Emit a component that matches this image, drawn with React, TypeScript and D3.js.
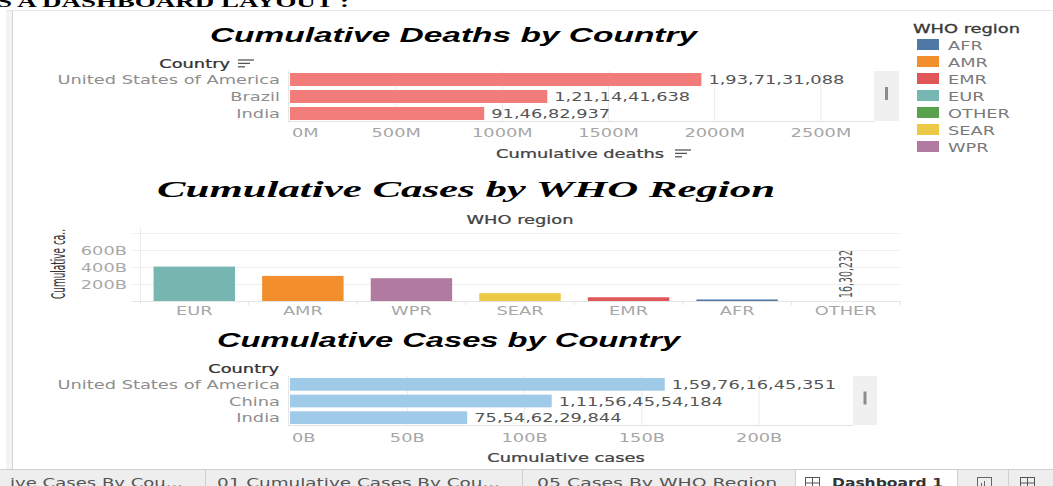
import React, { useEffect, useRef } from 'react';
import * as d3 from 'd3';

const W = 1053;
const H = 486;
const SX = 1.55; // the screenshot is stretched sideways, so text is too
const SANS = 'DejaVu Sans';

// Cumulative deaths by country
const deathCountries = ['United States of America', 'Brazil', 'India'];
const deathValues = [1937131088, 1211441638, 914682937];
const deathTicks = [0, 500e6, 1000e6, 1500e6, 2000e6, 2500e6];

// Cumulative cases by WHO region
const regions = ['EUR', 'AMR', 'WPR', 'SEAR', 'EMR', 'AFR', 'OTHER'];
const regionCases = [405e9, 295e9, 268e9, 92e9, 44e9, 18e9, 1630232];
const regionTicks = [200e9, 400e9, 600e9];

// legend
const legendRegions = ['AFR', 'AMR', 'EMR', 'EUR', 'OTHER', 'SEAR', 'WPR'];
const legendColors = ['#4e79a7', '#f28e2b', '#e15759', '#76b7b2', '#59a14f', '#edc948', '#b07aa1'];

// Cumulative cases by country
const caseCountries = ['United States of America', 'China', 'India'];
const caseValues = [159761645351, 111564554184, 75546229844];
const caseTicks = [0, 50e9, 100e9, 150e9, 200e9];

const tabs = ['ive  Cases  By  Cou...', '01  Cumulative  Cases  By  Cou...', '05  Cases  By  WHO  Region'];

// 1937131088 -> 1,93,71,31,088
function indian(n) {
  const s = String(Math.round(n));
  const last3 = s.slice(-3);
  let rest = s.slice(0, -3);
  const parts = [];
  while (rest.length > 2) {
    parts.unshift(rest.slice(-2));
    rest = rest.slice(0, -2);
  }
  if (rest) parts.unshift(rest);
  return parts.length ? parts.join(',') + ',' + last3 : last3;
}

function label(g, str, x, y, o: any = {}) {
  return g.append('text')
    .attr('transform', `translate(${x},${y}) scale(${o.sx ?? SX},1)`)
    .attr('text-anchor', o.anchor ?? 'start')
    .style('font-family', o.family ?? SANS)
    .style('font-size', `${o.size ?? 11.5}px`)
    .style('font-weight', o.weight ?? 'normal')
    .style('font-style', o.style ?? 'normal')
    .attr('fill', o.fill ?? '#555')
    .text(str);
}

// stretch a text so it covers the given width
function fitWidth(t, x, y, width) {
  const len = t.node().getComputedTextLength();
  t.attr('transform', `translate(${x},${y}) scale(${width / len},1)`);
  return t;
}

function sortIcon(g, x, y) {
  [16, 12, 7].forEach((w, i) => {
    g.append('line')
      .attr('x1', x).attr('x2', x + w)
      .attr('y1', y + i * 3.4).attr('y2', y + i * 3.4)
      .attr('stroke', '#555').attr('stroke-width', 1.3);
  });
}

function drawCountryChart(svg, c) {
  const g = svg.append('g');
  const x = d3.scaleLinear().domain([0, c.max]).range([c.x0, c.x1]);
  const y = d3.scaleBand().domain(c.countries).range([c.top, c.bottom])
    .paddingInner(4 / 17).paddingOuter(2 / 17);
  const bw = y.bandwidth();
  const base = c.bottom - 1;

  // title
  fitWidth(label(g, c.title, 0, 0, {
    anchor: 'middle', family: 'Liberation Sans', weight: 'bold', style: 'italic', size: 21, fill: '#000'
  }), c.titleX, c.titleY, c.titleW);

  // pane
  g.selectAll('.grid').data(c.ticks.slice(1)).join('line')
    .attr('x1', d => x(d)).attr('x2', d => x(d))
    .attr('y1', c.top).attr('y2', base)
    .attr('stroke', '#ebebeb');
  g.append('line').attr('x1', x(0) - 1.5).attr('x2', x(0) - 1.5)
    .attr('y1', c.top).attr('y2', base).attr('stroke', '#e6e6e6');
  g.append('line').attr('x1', x(0) - 2).attr('x2', c.x1)
    .attr('y1', base + 0.5).attr('y2', base + 0.5).attr('stroke', '#e2e2e2');

  // scroll bar
  g.append('rect').attr('x', c.x1).attr('y', c.top)
    .attr('width', c.scrollW).attr('height', base - c.top).attr('fill', '#f0f0f0');
  g.append('rect').attr('x', c.x1 + c.scrollW / 2 - 1.5).attr('y', (c.top + base) / 2 - 9)
    .attr('width', 3).attr('height', 13).attr('fill', '#8c8c8c');

  g.selectAll('.bar').data(c.countries).join('rect')
    .attr('x', x(0))
    .attr('y', d => y(d))
    .attr('width', (d, i) => x(c.values[i]) - x(0))
    .attr('height', bw)
    .attr('fill', c.color);

  c.countries.forEach((d, i) => {
    label(g, d, c.x0 - 10, y(d) + bw / 2 + 4.5, { anchor: 'end', fill: '#8e8e8e' });
    label(g, indian(c.values[i]), x(c.values[i]) + 7, y(d) + bw / 2 + 4.5, { fill: '#555' });
  });

  c.ticks.forEach((t, i) => {
    label(g, c.fmt(t), i === 0 ? x(t) + 2 : x(t), c.tickY, {
      anchor: i === 0 ? 'start' : 'middle', fill: '#a6a6a6'
    });
  });

  label(g, 'Country', c.headerX, c.headerY, { anchor: 'end', fill: '#333' })
    .attr('stroke', '#333').attr('stroke-width', 0.25);
  if (c.headerIcon) sortIcon(g, c.headerX + 8, c.headerY - 8);

  label(g, c.axisTitle, c.axisX, c.axisY, { anchor: 'middle', fill: '#444' })
    .attr('stroke', '#444').attr('stroke-width', 0.25);
  if (c.axisIcon) sortIcon(g, c.axisX + 95, c.axisY - 8);
}

function drawRegionChart(svg) {
  const g = svg.append('g');
  const x = d3.scaleBand().domain(regions).range([140, 900]).paddingInner(0.25).paddingOuter(0.125);
  const y = d3.scaleLinear().domain([0, 800e9]).range([301, 233]);
  const color = d3.scaleOrdinal().domain(legendRegions).range(legendColors);
  const bw = x.bandwidth();
  const gap = (x.step() - bw) / 2;

  fitWidth(label(g, 'Cumulative Cases by WHO Region', 0, 0, {
    anchor: 'middle', family: 'Liberation Serif', weight: 'bold', style: 'italic', size: 23, fill: '#000'
  }), 466, 197, 618);

  label(g, 'WHO region', 520, 224, { anchor: 'middle', fill: '#444' })
    .attr('stroke', '#444').attr('stroke-width', 0.25);

  g.selectAll('.grid').data([...regionTicks, 800e9]).join('line')
    .attr('x1', 132).attr('x2', 900)
    .attr('y1', d => y(d) + 0.5).attr('y2', d => y(d) + 0.5)
    .attr('stroke', '#efefef');
  g.append('line').attr('x1', 132).attr('x2', 900)
    .attr('y1', y(0) + 0.5).attr('y2', y(0) + 0.5).attr('stroke', '#e4e4e4');
  g.append('line').attr('x1', 140.5).attr('x2', 140.5)
    .attr('y1', 228).attr('y2', y(0) + 3).attr('stroke', '#ececec');
  g.selectAll('.sep').data(regions).join('line')
    .attr('x1', d => x(d) + bw + gap).attr('x2', d => x(d) + bw + gap)
    .attr('y1', y(0)).attr('y2', y(0) + 4)
    .attr('stroke', '#e4e4e4');

  g.selectAll('.bar').data(regions).join('rect')
    .attr('x', d => x(d))
    .attr('y', (d, i) => y(regionCases[i]))
    .attr('width', bw)
    .attr('height', (d, i) => y(0) - y(regionCases[i]))
    .attr('fill', d => color(d));

  regions.forEach(d => {
    label(g, d, x(d) + bw / 2, 315, { anchor: 'middle', fill: '#a8a8a8' });
  });
  regionTicks.forEach(t => {
    label(g, `${t / 1e9}B`, 127, y(t) + 4.5, { anchor: 'end', fill: '#a8a8a8' });
  });

  // axis title, rotated
  const yt = label(g, 'Cumulative ca..', 0, 0, { anchor: 'middle', fill: '#333', size: 12 }).attr('dy', '0.35em');
  const ylen = yt.node().getComputedTextLength();
  yt.attr('transform', `translate(58.5,264) rotate(-90) scale(${70 / ylen},${SX})`);

  // mark label for the tiny OTHER bar
  const oi = regions.indexOf('OTHER');
  const ot = label(g, indian(regionCases[oi]), 0, 0, { fill: '#555', size: 11.5 }).attr('dy', '0.35em');
  const olen = ot.node().getComputedTextLength();
  ot.attr('transform', `translate(${x('OTHER') + bw / 2},${y(regionCases[oi]) - 3}) rotate(-90) scale(${48 / olen},${SX * 0.95})`);
}

function drawLegend(svg) {
  const g = svg.append('g');
  label(g, 'WHO region', 913, 33, { fill: '#3a3a3a' }).attr('stroke', '#3a3a3a').attr('stroke-width', 0.3);
  const y = d3.scaleBand().domain(legendRegions).range([39, 39 + 17 * legendRegions.length]);
  g.selectAll('.sw').data(legendRegions).join('rect')
    .attr('x', 917).attr('y', d => y(d))
    .attr('width', 22).attr('height', 11)
    .attr('fill', (d, i) => legendColors[i]);
  legendRegions.forEach(d => label(g, d, 948, y(d) + 10.5, { fill: '#7a7a7a' }));
}

function gridIcon(g, x, y, w, h) {
  g.append('rect').attr('x', x + 0.5).attr('y', y + 0.5).attr('width', w).attr('height', h)
    .attr('fill', 'none').attr('stroke', '#555');
  g.append('line').attr('x1', x + w / 2 + 0.5).attr('x2', x + w / 2 + 0.5)
    .attr('y1', y).attr('y2', y + h).attr('stroke', '#555');
  g.append('line').attr('x1', x).attr('x2', x + w)
    .attr('y1', y + h / 2 + 0.5).attr('y2', y + h / 2 + 0.5).attr('stroke', '#555');
}

function drawFrame(svg) {
  const g = svg.append('g');
  fitWidth(label(g, 'S A DASHBOARD LAYOUT :', 0, 0, {
    family: 'Liberation Serif', weight: 'bold', size: 17, fill: '#000'
  }), -3, 7, 352);
  g.append('rect').attr('x', 6).attr('y', 10).attr('width', 6).attr('height', 459).attr('fill', '#f4f4f4');
  g.append('line').attr('x1', 12.5).attr('x2', 12.5).attr('y1', 10).attr('y2', 469).attr('stroke', '#d4d4d4');
  g.append('line').attr('x1', 6).attr('x2', W).attr('y1', 10.5).attr('y2', 10.5).attr('stroke', '#e8e8e8');
}

function drawTabs(svg) {
  const g = svg.append('g');
  g.append('rect').attr('x', 0).attr('y', 469).attr('width', W).attr('height', H - 469).attr('fill', '#eeeeee');
  g.append('rect').attr('x', 795).attr('y', 469).attr('width', 162).attr('height', H - 469).attr('fill', '#fff');
  g.append('line').attr('x1', 0).attr('x2', W).attr('y1', 469.5).attr('y2', 469.5).attr('stroke', '#cfcfcf');
  [205, 522, 795, 957, 1008].forEach(sx => {
    g.append('line').attr('x1', sx + 0.5).attr('x2', sx + 0.5).attr('y1', 469).attr('y2', H).attr('stroke', '#cfcfcf');
  });
  const starts = [10, 217, 537];
  const widths = [173, 283, 240];
  tabs.forEach((t, i) => {
    fitWidth(label(g, t, 0, 0, { size: 12, fill: '#555' }), starts[i], 487, widths[i]);
  });
  gridIcon(g, 805, 477, 14, 11);
  fitWidth(label(g, 'Dashboard 1', 0, 0, { size: 12, fill: '#333', weight: 'bold' }), 832, 487, 111);
  g.append('rect').attr('x', 977.5).attr('y', 477.5).attr('width', 14).attr('height', 10)
    .attr('fill', 'none').attr('stroke', '#666');
  g.append('line').attr('x1', 981.5).attr('x2', 981.5).attr('y1', 483).attr('y2', 486).attr('stroke', '#666');
  g.append('line').attr('x1', 984.5).attr('x2', 984.5).attr('y1', 481).attr('y2', 486).attr('stroke', '#666');
  gridIcon(g, 1020, 477, 14, 11);
}

export default function App() {
  const ref = useRef(null);

  useEffect(() => {
    const svg = d3.select(ref.current);
    svg.selectAll('*').remove();
    drawFrame(svg);

    drawCountryChart(svg, {
      title: 'Cumulative Deaths by Country', titleX: 453.5, titleY: 42, titleW: 487,
      countries: deathCountries, values: deathValues, color: '#f27c79',
      max: 2750e6, ticks: deathTicks, fmt: d => `${d / 1e6}M`,
      x0: 290, x1: 874, scrollW: 25, top: 71, bottom: 122, tickY: 137,
      headerX: 230, headerY: 68, headerIcon: true,
      axisTitle: 'Cumulative deaths', axisX: 580, axisY: 158, axisIcon: true
    });

    drawRegionChart(svg);
    drawLegend(svg);

    drawCountryChart(svg, {
      title: 'Cumulative Cases by Country', titleX: 448.5, titleY: 347, titleW: 463,
      countries: caseCountries, values: caseValues, color: '#9fcae8',
      max: 240e9, ticks: caseTicks, fmt: d => `${d / 1e9}B`,
      x0: 290, x1: 853, scrollW: 24, top: 376, bottom: 426, tickY: 442,
      headerX: 279, headerY: 373, headerIcon: false,
      axisTitle: 'Cumulative cases', axisX: 566, axisY: 462, axisIcon: false
    });

    drawTabs(svg);
  }, []);

  return (
    <svg
      ref={ref}
      width={W}
      height={H}
      style={{ position: 'absolute', left: 0, top: 0, background: '#fff' }}
    />
  );
}
